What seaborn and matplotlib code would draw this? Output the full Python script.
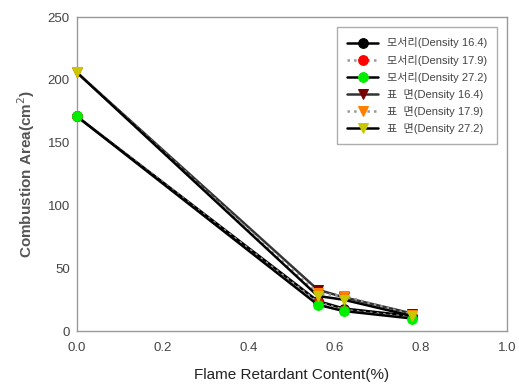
import numpy as np
import pandas as pd
import matplotlib
matplotlib.use("Agg")
import matplotlib.pyplot as plt
import seaborn as sns

x_vals = [0.0, 0.56, 0.62, 0.78]
labels = ["모서리(Density 16.4)", "모서리(Density 17.9)", "모서리(Density 27.2)",
          "표  면(Density 16.4)", "표  면(Density 17.9)", "표  면(Density 27.2)"]
edge_164 = [171, 24, 18, 12]
edge_179 = [171, 23, 17, 11]
edge_272 = [171, 21, 16, 10]
surf_164 = [206, 33, 27, 14]
surf_179 = [206, 30, 28, 13]
surf_272 = [206, 28, 25, 12]
series = [edge_164, edge_179, edge_272, surf_164, surf_179, surf_272]
colors = ["#000000", "#ff0000", "#00ee00", "#7a0000", "#ff8000", "#c8c800"]
markers = ["o", "o", "o", "v", "v", "v"]
linestyles = ["-", ":", "-", "-", ":", "-"]
linecolors = ["#000000", "#999999", "#000000", "#333333", "#999999", "#000000"]
xticks = [0.0, 0.2, 0.4, 0.6, 0.8, 1.0]
yticks = [0, 50, 100, 150, 200, 250]

sns.set_style("white")
plt.rcParams['font.family'] = ['Liberation Sans', 'Noto Sans CJK KR', 'DejaVu Sans']

rows = []
for lab, vals in zip(labels, series):
    for xv, yv in zip(x_vals, vals):
        rows.append({"x": xv, "y": yv, "series": lab})
df = pd.DataFrame(rows)

fig = plt.figure(figsize=(5.19, 3.9), dpi=100)
ax = fig.add_axes([0.148, 0.151, 0.829, 0.805])

for i, lab in enumerate(labels):
    sub = df[df.series == lab]
    sns.lineplot(data=sub, x="x", y="y", ax=ax, color=linecolors[i], linestyle=linestyles[i],
                 linewidth=1.8, marker=markers[i], markersize=7, markerfacecolor=colors[i],
                 markeredgecolor=colors[i], label=lab, zorder=3 + i, clip_on=False)

ax.set_xlim(0, 1.0)
ax.set_ylim(0, 250)
ax.set_xticks(xticks)
ax.set_yticks(yticks)
ax.set_xticklabels([f"{t:.1f}" for t in xticks])
ax.tick_params(direction='in', length=3, color='#999999', labelsize=9.5, labelcolor='#444444')
ax.tick_params(axis='x', pad=8)
ax.tick_params(axis='y', pad=5)
for s in ax.spines.values():
    s.set_color('#999999')
    s.set_linewidth(1)
ax.set_xlabel("Flame Retardant Content(%)", fontsize=11, color='#222222', labelpad=10)
ax.set_ylabel("Combustion Area(cm$^2$)", fontsize=11, color='#555555', fontweight='bold', labelpad=8)

leg = ax.legend(loc='upper right', fontsize=8, frameon=True, fancybox=False,
                edgecolor='#999999', handlelength=2.8, borderpad=0.9, labelspacing=0.55,
                bbox_to_anchor=(0.99, 0.985))
for t in leg.get_texts():
    t.set_color('#444444')

fig.savefig("out.png", dpi=100)
